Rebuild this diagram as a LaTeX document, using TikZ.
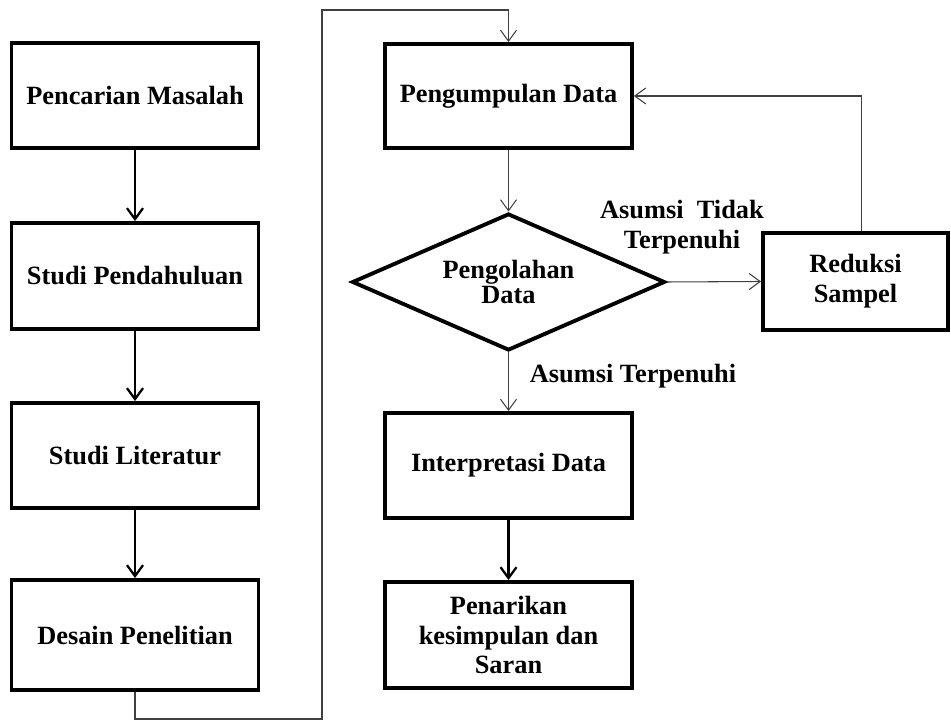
\documentclass[tikz,border=0pt]{standalone}
\usepackage{fontspec}
\setmainfont{Liberation Serif}
\usetikzlibrary{shapes.geometric,arrows.meta}

\tikzset{
	kotak/.style={draw=black, line width=2.2pt, fill=white, align=center,
		minimum width=4.94cm, minimum height=2.1cm, inner sep=2pt,
		font=\bfseries\fontsize{15}{17}\selectfont},
	belah/.style={diamond, draw=black, line width=2.2pt, fill=white, align=center,
		minimum width=6.26cm, minimum height=2.74cm, inner sep=0pt, aspect=2.3,
		font=\bfseries\fontsize{15}{14}\selectfont},
	label/.style={align=center, inner sep=0pt,
		font=\bfseries\fontsize{15}{17}\selectfont},
	panahtebal/.style={line width=1.3pt, draw=black,
		-{Straight Barb[length=2.2mm, width=3.2mm, line width=1.3pt]}},
	panahtipis/.style={line width=0.6pt, draw=black!75,
		-{Straight Barb[length=2.2mm, width=3.2mm, line width=0.6pt]}}
}

\begin{document}
\begin{tikzpicture}[x=0.02cm, y=-0.02cm]
	\useasboundingbox (0,0) rectangle (951,722);

	% Kotak kiri
	\node[kotak] (pencarian) at (135,95.5) {Pencarian Masalah};
	\node[kotak, minimum height=2.12cm] (pendahuluan) at (135,276) {Studi Pendahuluan};
	\node[kotak] (literatur) at (135,455.5) {Studi Literatur};
	\node[kotak, minimum height=2.2cm] (desain) at (135,635) {Desain Penelitian};

	% Kotak kanan
	\node[kotak, minimum height=2.08cm] (pengumpulan) at (508.5,96) {Pengumpulan Data};
	\node[belah] (pengolahan) at (508.5,282) {Pengolahan\\Data};
	\node[kotak, minimum width=3.7cm, minimum height=1.94cm] (reduksi) at (855.5,281.5) {Reduksi\\Sampel};
	\node[kotak] (interpretasi) at (508.5,465.5) {Interpretasi Data};
	\node[kotak, minimum height=2.12cm] (penarikan) at (508.5,635) {Penarikan\\kesimpulan dan\\Saran};

	% Keterangan
	\node[label] (tidak) at (682,227) {Asumsi~~Tidak\\Terpenuhi};
	\node[label] (terpenuhi) at (633,376) {Asumsi Terpenuhi};

	% Panah kiri
	\draw[panahtebal] (pencarian) -- (pendahuluan);
	\draw[panahtebal] (pendahuluan) -- (literatur);
	\draw[panahtebal] (literatur) -- (desain);

	% Sambungan ke kolom kanan
	\coordinate (bawah) at (135,719);
	\coordinate (atas) at (322,10);
	\draw[panahtipis] (desain.south) -- (bawah) -| (atas) -| (pengumpulan.north);

	% Panah kanan
	\draw[panahtipis] (pengumpulan) -- (pengolahan);
	\draw[panahtipis] (pengolahan.east) -- (reduksi.west);
	\draw[panahtipis] ([xshift=0.12cm]reduksi.north) |- (pengumpulan.east);
	\draw[panahtipis] (pengolahan.south) -- (interpretasi.north);
	\draw[panahtebal] (interpretasi) -- (penarikan);
\end{tikzpicture}
\end{document}
